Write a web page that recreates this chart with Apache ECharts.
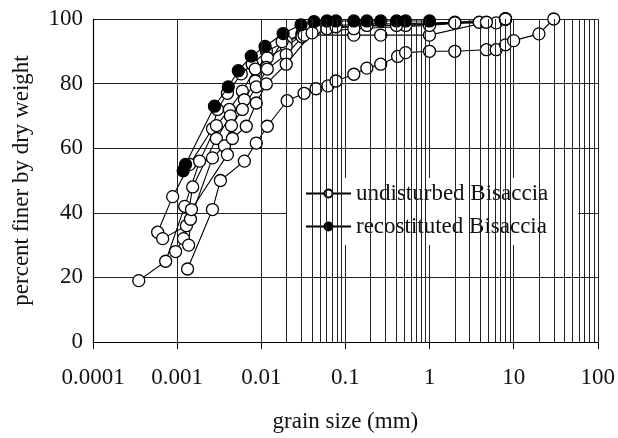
<!DOCTYPE html>
<html>
<head>
<meta charset="utf-8">
<script src="https://cdn.jsdelivr.net/npm/echarts@6/dist/echarts.min.js"></script>
<style>
  html, body { margin: 0; padding: 0; background: #fff; }
  #chart { width: 618px; height: 438px; }
</style>
</head>
<body>
<div id="chart"></div>
<script>
// Grain size distribution curves, Bisaccia clay: grain size (mm) vs percent finer.
const FONT = '"Liberation Serif", "Times New Roman", serif';

const xTickLabels = ['0.0001', '0.001', '0.01', '0.1', '1', '10', '100'];
const yTicks = [0, 20, 40, 60, 80, 100];

const legendNames = ['undisturbed Bisaccia', 'recostituted Bisaccia'];

// Undisturbed samples: [grain size mm, percent finer]
const undisturbed1 = [[0.000587, 34], [0.000885, 45], [0.00141, 55], [0.00263, 66], [0.00302, 72],
  [0.00396, 77], [0.00579, 83], [0.00781, 86], [0.0115, 90], [0.0198, 93], [0.0305, 95.5],
  [0.0436, 97], [0.0773, 98], [0.180, 98.5], [0.406, 98.5], [2.0, 99], [8.0, 100]];
const undisturbed2 = [[0.00035, 19], [0.000731, 25], [0.00123, 42], [0.00185, 56], [0.00293, 67],
  [0.00418, 72], [0.00596, 77.7], [0.00849, 84.5], [0.0118, 88], [0.0198, 91.5], [0.0305, 95],
  [0.0604, 97], [0.180, 98], [0.520, 98], [3.9, 99], [8.0, 100]];
const undisturbed3 = [[0.000673, 32], [0.00129, 36], [0.00153, 48], [0.00293, 63], [0.0043, 70],
  [0.0063, 75], [0.00849, 80.8], [0.0115, 85], [0.0177, 93], [0.0305, 94.5], [0.0773, 97.6],
  [0.406, 98], [2.0, 98.8], [6.2, 98.8], [8.0, 100]];
const undisturbed4 = [[0.000959, 28], [0.00119, 32], [0.00144, 38], [0.00263, 57], [0.00365, 60.7],
  [0.00442, 67], [0.00596, 72], [0.00873, 79], [0.0118, 84.5], [0.0198, 89], [0.0323, 95],
  [0.126, 95], [0.263, 95], [1.0, 95], [4.75, 99], [8.0, 100]];
const undisturbed5 = [[0.00137, 30], [0.00148, 41], [0.00396, 58], [0.00454, 63], [0.00664, 66.8],
  [0.00873, 74], [0.0115, 79.9], [0.0198, 86], [0.0402, 95.7], [0.126, 97], [1.0, 98], [8.0, 100]];
const undisturbed6 = [[0.00133, 22.6], [0.00263, 41], [0.00327, 50], [0.0063, 56], [0.00873, 61.6],
  [0.0118, 66.8], [0.0203, 74.7], [0.0323, 77], [0.0448, 78.4], [0.0621, 79.3], [0.0773, 80.8],
  [0.126, 82.9], [0.180, 84.8], [0.263, 86], [0.418, 88.4], [0.520, 89.6], [1.0, 90], [2.0, 90],
  [4.75, 90.5], [6.2, 90.5], [8.0, 92], [10, 93.3], [20, 95.4], [30, 100]];

// Reconstituted sample
const reconstituted = [[0.00118, 53], [0.00126, 55], [0.00278, 73], [0.00406, 79], [0.00534, 84],
  [0.00762, 88.5], [0.0111, 91.5], [0.0182, 95.5], [0.0297, 98.2], [0.0424, 99.2], [0.0604, 99.4],
  [0.0773, 99.4], [0.126, 99.4], [0.180, 99.4], [0.263, 99.4], [0.406, 99.4], [0.520, 99.4], [1.0, 99.4]];

const undisturbedSets = [undisturbed1, undisturbed2, undisturbed3, undisturbed4, undisturbed5, undisturbed6];

// Intermediate log-cycle grid positions (2..9 within each decade)
const minorGrid = [];
for (let e = -4; e < 2; e++) {
  for (let m = 2; m <= 9; m++) minorGrid.push(m * Math.pow(10, e));
}

const gridColor = '#222';

function curve(name, data, filled) {
  return {
    name: name,
    type: 'line',
    data: data,
    symbol: 'circle',
    symbolSize: 12,
    showSymbol: true,
    z: filled ? 4 : 3,
    lineStyle: { color: '#000', width: 1.1 },
    itemStyle: { color: filled ? '#000' : '#fff', borderColor: '#000', borderWidth: 1.3 },
    emphasis: { disabled: true },
    animation: false
  };
}

const series = [{
  type: 'line',
  data: [],
  silent: true,
  z: 1,
  markLine: {
    silent: true,
    symbol: ['none', 'none'],
    label: { show: false },
    emphasis: { disabled: true },
    lineStyle: { color: gridColor, width: 1, type: 'solid' },
    data: minorGrid.map(v => ({ xAxis: v }))
  },
  animation: false
}];
undisturbedSets.forEach(d => series.push(curve(legendNames[0], d, false)));
series.push(curve(legendNames[1], reconstituted, true));

const chart = echarts.init(document.getElementById('chart'), null, { renderer: 'canvas' });
chart.setOption({
  animation: false,
  backgroundColor: '#fff',
  textStyle: { fontFamily: FONT },
  grid: { left: 93, right: 18, top: 19, bottom: 91, containLabel: false },
  legend: {
    data: legendNames,
    orient: 'vertical',
    left: 287,
    top: 178,
    padding: [4, 30, 7, 18],
    itemGap: 10,
    itemWidth: 45,
    itemHeight: 10,
    backgroundColor: '#fff',
    textStyle: { fontFamily: FONT, fontSize: 23, color: '#111' },
    selectedMode: false
  },
  xAxis: {
    type: 'log',
    logBase: 10,
    min: 0.0001,
    max: 100,
    name: 'grain size (mm)',
    nameLocation: 'middle',
    nameGap: 68,
    nameTextStyle: { fontFamily: FONT, fontSize: 23, color: '#111' },
    axisLine: { show: true, lineStyle: { color: '#000', width: 1.2 } },
    axisTick: { show: true, length: 7, lineStyle: { color: '#000' } },
    axisLabel: {
      margin: 24,
      fontFamily: FONT, fontSize: 23, color: '#111',
      formatter: v => xTickLabels[Math.round(Math.log10(v)) + 4]
    },
    splitLine: { show: true, lineStyle: { color: gridColor, width: 1 } }
  },
  yAxis: {
    type: 'value',
    min: yTicks[0],
    max: yTicks[yTicks.length - 1],
    interval: 20,
    name: 'percent finer by dry weight',
    nameLocation: 'middle',
    nameGap: 60,
    nameTextStyle: { fontFamily: FONT, fontSize: 23, color: '#111' },
    axisLine: { show: true, lineStyle: { color: '#000', width: 1.2 } },
    axisTick: { show: false },
    axisLabel: { margin: 10, fontFamily: FONT, fontSize: 23, color: '#111' },
    splitLine: { show: true, lineStyle: { color: gridColor, width: 1 } }
  },
  series: series
});
</script>
</body>
</html>
